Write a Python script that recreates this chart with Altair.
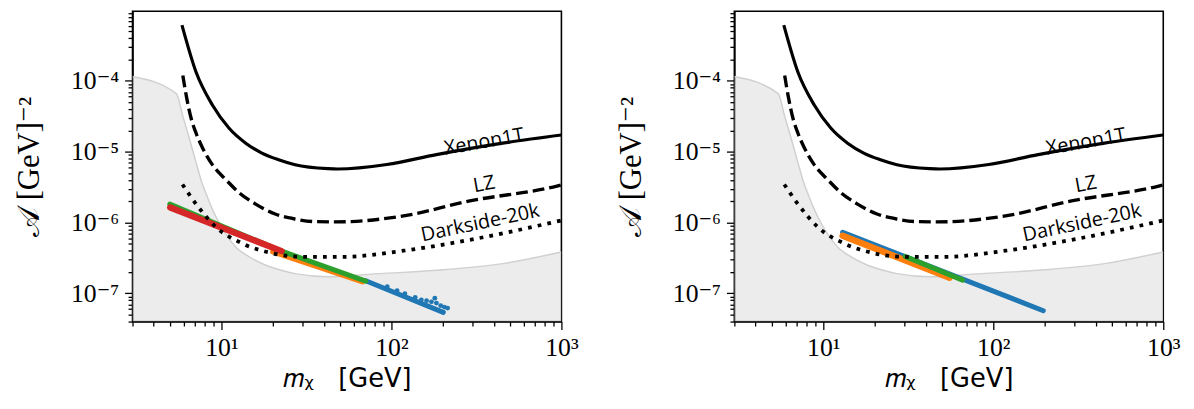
import altair as alt
import pandas as pd

# ---------------- data ----------------
xenon_x = [5.86, 7.1, 8.87, 11.1, 13.9, 17.3, 21.7, 27.1, 42.3, 48.4, 94.0, 184.0, 451.0, 1000.0]
xenon_y = [6.11e-4, 1.32e-4, 4.52e-5, 2.14e-5, 1.32e-5, 9.57e-6, 7.71e-6, 6.56e-6, 5.77e-6, 5.7e-6, 6.6e-6, 9.1e-6, 1.32e-5, 1.72e-5]

lz_x = [5.93, 6.26, 6.64, 7.10, 7.76, 8.84, 10.6, 12.7, 15.9, 20.7, 27.1, 35.4, 46.8, 118.0, 289.0, 940.0, 1000.0]
lz_y = [1.19e-4, 5.61e-5, 2.94e-5, 1.82e-5, 1.12e-5, 6.56e-6, 4.05e-6, 2.64e-6, 1.82e-6, 1.32e-6, 1.12e-6, 1.03e-6, 1.02e-6, 1.24e-6, 2.02e-6, 3.27e-6, 3.4e-6]

ds_x = [5.9, 7.1, 9.3, 13.2, 19.8, 31.0, 50.0, 118.0, 289.0, 1000.0]
ds_y = [3.45e-6, 1.82e-6, 8.6e-7, 5.1e-7, 3.7e-7, 3.27e-7, 3.27e-7, 4.0e-7, 5.7e-7, 1.07e-6]

gray_x = [3.0, 5.43, 5.93, 6.49, 7.10, 7.60, 8.15, 8.84, 9.70, 10.8, 12.1, 14.5, 17.3, 21.7, 27.1, 42.3, 75.5, 184.0, 451.0, 1000.0]
gray_y = [1.15e-4, 6.59e-5, 3.18e-5, 1.51e-5, 7.0e-6, 3.93e-6, 2.5e-6, 1.545e-6, 9.85e-7, 6.48e-7, 4.55e-7, 3.3e-7, 2.64e-7, 2.17e-7, 1.9e-7, 1.72e-7, 1.87e-7, 2.12e-7, 2.63e-7, 3.84e-7]

label_names = ["Xenon1T", "LZ", "Darkside-20k"]
label_x = [351.0, 351.0, 333.0]
label_y = [1.37e-5, 3.45e-6, 9.8e-7]
label_angle = [350, 350, 348]

# left panel coloured series
L_blue_x = [70.6, 202.0]
L_blue_y = [1.51e-7, 5.4e-8]
L_blue_pts_x = [94.5, 108.0, 120.0, 138.0, 150.0, 161.0, 172.0, 180.0, 184.0, 195.0, 205.0, 214.0]
L_blue_pts_y = [1.245e-7, 1.09e-7, 9.9e-8, 8.8e-8, 8.1e-8, 7.9e-8, 7.6e-8, 8.55e-8, 7.3e-8, 6.7e-8, 6.4e-8, 6.2e-8]
L_orange_x = [20.0, 67.6]
L_orange_y = [3.85e-7, 1.45e-7]
L_green_x = [4.97, 22.6, 70.6]
L_green_y = [1.82e-6, 3.95e-7, 1.49e-7]
L_red_x = [5.0, 22.6]
L_red_y = [1.63e-6, 3.95e-7]

# right panel coloured series
R_blue_x = [13.0, 197.0]
R_blue_y = [7.3e-7, 5.7e-8]
R_orange_x = [13.0, 55.3]
R_orange_y = [6.5e-7, 1.66e-7]
R_green_x = [30.3, 66.0]
R_green_y = [3.33e-7, 1.54e-7]

XMIN, XMAX = 3.0, 1000.0
YMIN, YMAX = 4e-8, 9.6e-4

x_major = [10.0, 100.0, 1000.0]
x_major_lab = ["10¹", "10²", "10³"]
y_major = [1e-7, 1e-6, 1e-5, 1e-4]
y_major_lab = ["10⁻⁷", "10⁻⁶", "10⁻⁵", "10⁻⁴"]

x_ticks = [m * 10.0 ** e for e in (0, 1, 2) for m in range(1, 10) if XMIN <= m * 10.0 ** e <= XMAX] + [1000.0]
y_ticks = [float(f"{m}e{e}") for e in (-8, -7, -6, -5, -4) for m in range(1, 10) if YMIN <= float(f"{m}e{e}") <= YMAX]

TAB_BLUE, TAB_ORANGE, TAB_GREEN, TAB_RED = "#1f77b4", "#ff7f0e", "#2ca02c", "#d62728"

SERIF = "Liberation Serif, DejaVu Serif, serif"
SANS = "Open Sans, DejaVu Sans, sans-serif"
TSANS = "DejaVu Sans, sans-serif"


def lab_expr(vals, labs):
    parts = [f"datum.value == {v!r} ? '{l}'" for v, l in zip(vals, labs)]
    return " : ".join(parts) + " : ''"


def major_test(vals):
    return " || ".join(f"datum.value == {v!r}" for v in vals)


def cond(vals, major, minor):
    return {"condition": {"test": major_test(vals), "value": major}, "value": minor}


xaxis = alt.Axis(
    values=x_ticks, labelExpr=lab_expr(x_major, x_major_lab),
    tickSize=cond(x_major, 8, 4.5), labelFontSize=cond(x_major, 26, 0),
    grid=False, labelFont=SERIF, labelPadding=5,
    labelFlush=False, labelOverlap=False, labelColor="black",
    tickColor="black", tickWidth=1.3, domainColor="black", domainWidth=1.6,
    title="𝑚ᵪ\u00a0\u00a0\u00a0[GeV]", titleFont=TSANS, titleFontSize=26, titleFontWeight="normal",
    titleColor="black", titlePadding=6,
)
yaxis = alt.Axis(
    values=y_ticks, labelExpr=lab_expr(y_major, y_major_lab),
    tickSize=cond(y_major, 8, 4.5), labelFontSize=cond(y_major, 26, 0),
    grid=False, labelFont=SERIF, labelPadding=6,
    labelFlush=False, labelOverlap=False, labelColor="black",
    tickColor="black", tickWidth=1.3, domainColor="black", domainWidth=1.6,
    minExtent=82, maxExtent=82,
    title="𝒜 [GeV]⁻²", titleFont=SERIF, titleFontSize=31, titleFontWeight="normal",
    titleColor="black", titlePadding=6,
)

xs = alt.Scale(type="log", domain=[XMIN, XMAX], nice=False)
ys = alt.Scale(type="log", domain=[YMIN, YMAX], nice=False)


def df(x, y):
    return pd.DataFrame({"x": x, "y": y})


def enc():
    return dict(
        x=alt.X("x:Q", scale=xs, axis=xaxis),
        y=alt.Y("y:Q", scale=ys, axis=yaxis),
    )


def panel(coloured):
    gdf = df(gray_x, gray_y)
    gdf["y0"] = YMIN
    area = alt.Chart(gdf).mark_area(
        color="#e4e4e4", interpolate="monotone", clip=True,
        line={"color": "#d0d0d0", "strokeWidth": 1.5},
    ).encode(y2="y0:Q", **enc())
    layers = [area]
    for kind, x, y, color, width in coloured:
        if kind == "line":
            layers.append(alt.Chart(df(x, y)).mark_line(
                color=color, strokeWidth=width, strokeCap="round", clip=True
            ).encode(**enc()))
        else:
            layers.append(alt.Chart(df(x, y)).mark_circle(
                color=color, size=width, opacity=1, clip=True
            ).encode(**enc()))
    layers.append(alt.Chart(df(xenon_x, xenon_y)).mark_line(
        color="black", strokeWidth=3.2, interpolate="monotone", clip=True
    ).encode(**enc()))
    layers.append(alt.Chart(df(lz_x, lz_y)).mark_line(
        color="black", strokeWidth=3.4, strokeDash=[12, 5], interpolate="monotone", clip=True
    ).encode(**enc()))
    layers.append(alt.Chart(df(ds_x, ds_y)).mark_line(
        color="black", strokeWidth=3.8, strokeDash=[3.8, 6.2], interpolate="monotone", clip=True
    ).encode(**enc()))
    ldf = pd.DataFrame({"x": label_x, "y": label_y, "t": label_names})
    for i in range(len(label_names)):
        layers.append(alt.Chart(ldf.iloc[[i]]).mark_text(
            font=SANS, fontSize=20, color="black", angle=label_angle[i],
            align="center", baseline="middle",
        ).encode(text="t:N", **enc()))
    return alt.layer(*layers).properties(width=434, height=314)


left = panel([
    ("line", L_blue_x, L_blue_y, TAB_BLUE, 5),
    ("pts", L_blue_pts_x, L_blue_pts_y, TAB_BLUE, 24),
    ("line", L_orange_x, L_orange_y, TAB_ORANGE, 5),
    ("line", L_green_x, L_green_y, TAB_GREEN, 5),
    ("line", L_red_x, L_red_y, TAB_RED, 6.5),
])
right = panel([
    ("line", R_blue_x, R_blue_y, TAB_BLUE, 5),
    ("line", R_orange_x, R_orange_y, TAB_ORANGE, 6.5),
    ("line", R_green_x, R_green_y, TAB_GREEN, 5),
])

chart = alt.hconcat(left, right, spacing=36).properties(
    padding={"left": 5, "top": 0, "right": 5, "bottom": 0}, background="white"
).configure_view(stroke="black", strokeWidth=1.6)

chart.save("out.html", embed_options={"renderer": "svg", "actions": False})
